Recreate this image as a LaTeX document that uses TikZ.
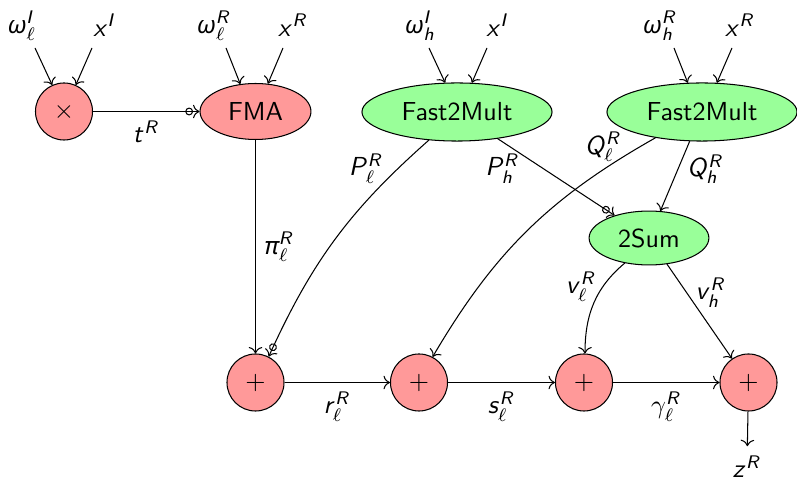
\documentclass[tikz,border=0pt]{standalone}
\usepackage{amsmath}
\usepackage{fontspec}
\newfontfamily\grk{Noto Sans}[Scale=0.93]
\DeclareMathAlphabet{\mathsfit}{OT1}{cmss}{m}{sl}
\newcommand\sv[1]{\mathsfit{#1}}
\newcommand\gk[1]{\text{\grk\itshape #1}}
\usetikzlibrary{arrows.meta,shapes.geometric,calc}
\definecolor{pinkc}{RGB}{255,153,153}
\definecolor{greenc}{RGB}{153,255,153}
\begin{document}
\begin{tikzpicture}[x=0.384pt,y=0.384pt,
  every node/.style={font=\sffamily},
  opc/.style={circle,draw,fill=pinkc,minimum size=21.9pt,inner sep=0pt},
  redell/.style={ellipse,draw,fill=pinkc,minimum width=42.6pt,minimum height=21.5pt,inner sep=0pt},
  grell/.style={ellipse,draw,fill=greenc,minimum width=73pt,minimum height=22.3pt,inner sep=0pt},
  arr/.style={-{To}},
  marr/.style={-{Circle[open,length=3pt,width=3pt] To}},
  lbl/.style={inner sep=1pt}
]
\useasboundingbox (0,0) rectangle (797,479);
% operation nodes
\node[opc] (mul) at (64,367.5) {$\times$};
\node[redell] (fma) at (255.5,367.5) {FMA};
\node[grell] (f1) at (457,367) {Fast2Mult};
\node[grell] (f2) at (702,367) {Fast2Mult};
\node[grell,minimum width=46pt,minimum height=20.7pt] (s2) at (649,241) {2Sum};
\node[opc] (p1) at (255.5,96.5) {$+$};
\node[opc] (p2) at (419,96.5) {$+$};
\node[opc] (p3) at (584,96.5) {$+$};
\node[opc] (p4) at (748.5,96.5) {$+$};
% inputs
\node (i1) at (22,453) {$\gk{ω}_\ell^{\sv{I}}$};
\node (i2) at (105,454) {$\sv{x}^{\sv{I}}$};
\node (i3) at (214,453) {$\gk{ω}_\ell^{\sv{R}}$};
\node (i4) at (293,454) {$\sv{x}^{\sv{R}}$};
\node (i5) at (420,453) {$\gk{ω}_{\sv{h}}^{\sv{I}}$};
\node (i6) at (498,454) {$\sv{x}^{\sv{I}}$};
\node (i7) at (660,453) {$\gk{ω}_{\sv{h}}^{\sv{R}}$};
\node (i8) at (740,454) {$\sv{x}^{\sv{R}}$};
\node (z) at (747,12.5) {$\sv{z}^{\sv{R}}$};
% input arrows
\draw[arr] ([shift={(13,-22)}]i1.center) -- (mul.114);
\draw[arr] ([shift={(-13,-23)}]i2.center) -- (mul.66);
\draw[arr] ([shift={(12,-22)}]i3.center) -- (fma.119);
\draw[arr] ([shift={(-10,-23)}]i4.center) -- (fma.66);
\draw[arr] ([shift={(9,-22)}]i5.center) -- (f1.112);
\draw[arr] ([shift={(-11,-23)}]i6.center) -- (f1.63);
\draw[arr] ([shift={(14,-22)}]i7.center) -- (f2.116);
\draw[arr] ([shift={(-8,-23)}]i8.center) -- (f2.63);
% edges
\draw[marr] (mul) -- node[below] {$\sv{t}^{\sv{R}}$} (fma);
\draw[arr] (fma) -- node[right] {$\gk{π}_\ell^{\sv{R}}$} (p1);
\draw[marr] (f1.225) to[bend right=12] node[pos=0.14,left=4.5pt,lbl] {$\sv{P}_\ell^{\sv{R}}$} (p1.63);
\draw[marr] (f1) -- node[pos=0.19,below left,inner sep=0pt] {$\sv{P}_{\sv{h}}^{\sv{R}}$} (s2);
\draw[arr] (f2.209) to[bend right=15] node[pos=0.15,above,lbl,xshift=-3pt] {$\sv{Q}_\ell^{\sv{R}}$} (p2.62);
\draw[arr] (f2) -- node[pos=0.4,right] {$\sv{Q}_{\sv{h}}^{\sv{R}}$} (s2);
\draw[arr] (s2.226) to[out=220,in=90] node[pos=0.3,left,inner sep=2.5pt] {$\sv{v}_\ell^{\sv{R}}$} (p3.88);
\draw[arr] (s2) -- node[pos=0.3,right] {$\sv{v}_{\sv{h}}^{\sv{R}}$} (p4);
\draw[arr] (p1) -- node[below] {$\sv{r}_\ell^{\sv{R}}$} (p2);
\draw[arr] (p2) -- node[below] {$\sv{s}_\ell^{\sv{R}}$} (p3);
\draw[arr] (p3) -- node[below] {$\gamma_\ell^{\sv{R}}$} (p4);
\draw[arr] (p4) -- (z);
\end{tikzpicture}
\end{document}
